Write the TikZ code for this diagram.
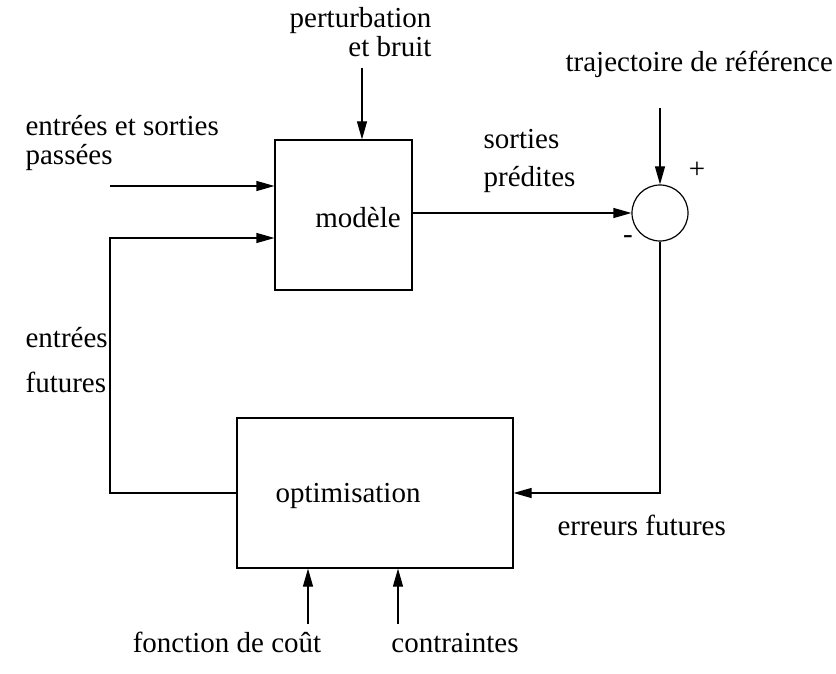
\documentclass[tikz,border=0pt]{standalone}
\usepackage{fontspec}
\setmainfont{Liberation Serif}
\usetikzlibrary{arrows.meta}

\begin{document}
\begin{tikzpicture}[x=1pt, y=-1pt, line width=1.2pt, >={Triangle[length=18pt,width=10pt]},
    block/.style = {draw, minimum width=137pt, minimum height=150pt, inner sep=0pt},
    txt/.style = {font=\fontsize{29}{34}\selectfont, inner sep=0pt}]
    \useasboundingbox (0,0) rectangle (836,674);

    % blocks and summing junction
    \node[block] (1) at (343.5,215) {};
    \node[block, minimum width=276pt] (2) at (375,493) {};
    \node[draw, circle, minimum size=56pt, inner sep=0pt] (3) at (660,213) {};

    \node[txt, anchor=base] (m) at (358,228) {modèle};
    \node[txt, anchor=base] (o) at (348,502) {optimisation};

    % free ends
    \coordinate (p) at (362,68);
    \coordinate (t) at (660,108);
    \coordinate (a) at (110,186);
    \coordinate (b) at (110,238);
    \coordinate (f) at (308,624);
    \coordinate (c) at (398,624);

    \draw[->] (p) -- (p |- 1.north);
    \draw[->] (a) -- (a -| 1.west);
    \draw[->] (2.west) -| (b) -- (b -| 1.west);
    \draw[->] (3.west -| 1.east) -- (3.west);
    \draw[->] (t) -- (3.north);
    \draw[->] (3.south) |- (2.east);
    \draw[->] (f) -- (f |- 2.south);
    \draw[->] (c) -- (c |- 2.south);

    % labels (base is the last line)
    \node[txt, align=right, anchor=base east] (pb) at (432,57) {perturbation\\[-5pt]et bruit};
    \node[txt, anchor=base west] (tr) at (565,72) {trajectoire de référence};
    \node[txt, align=left, anchor=base west] (es) at (25,165) {entrées et sorties\\[-5pt]passées};
    \node[txt, align=left, anchor=base west] (sp) at (483,187) {sorties\\[5pt]prédites};
    \node[txt] (plus) at (697,170) {+};
    \node[txt] (moins) at (628,240) {-};
    \node[txt, align=left, anchor=base west] (ef) at (25,392) {entrées\\[11pt]futures};
    \node[txt, anchor=base west] (er) at (557,535) {erreurs futures};
    \node[txt, anchor=base] (fc) at (227,652) {fonction de coût};
    \node[txt, anchor=base] (ct) at (455,652) {contraintes};
\end{tikzpicture}
\end{document}
